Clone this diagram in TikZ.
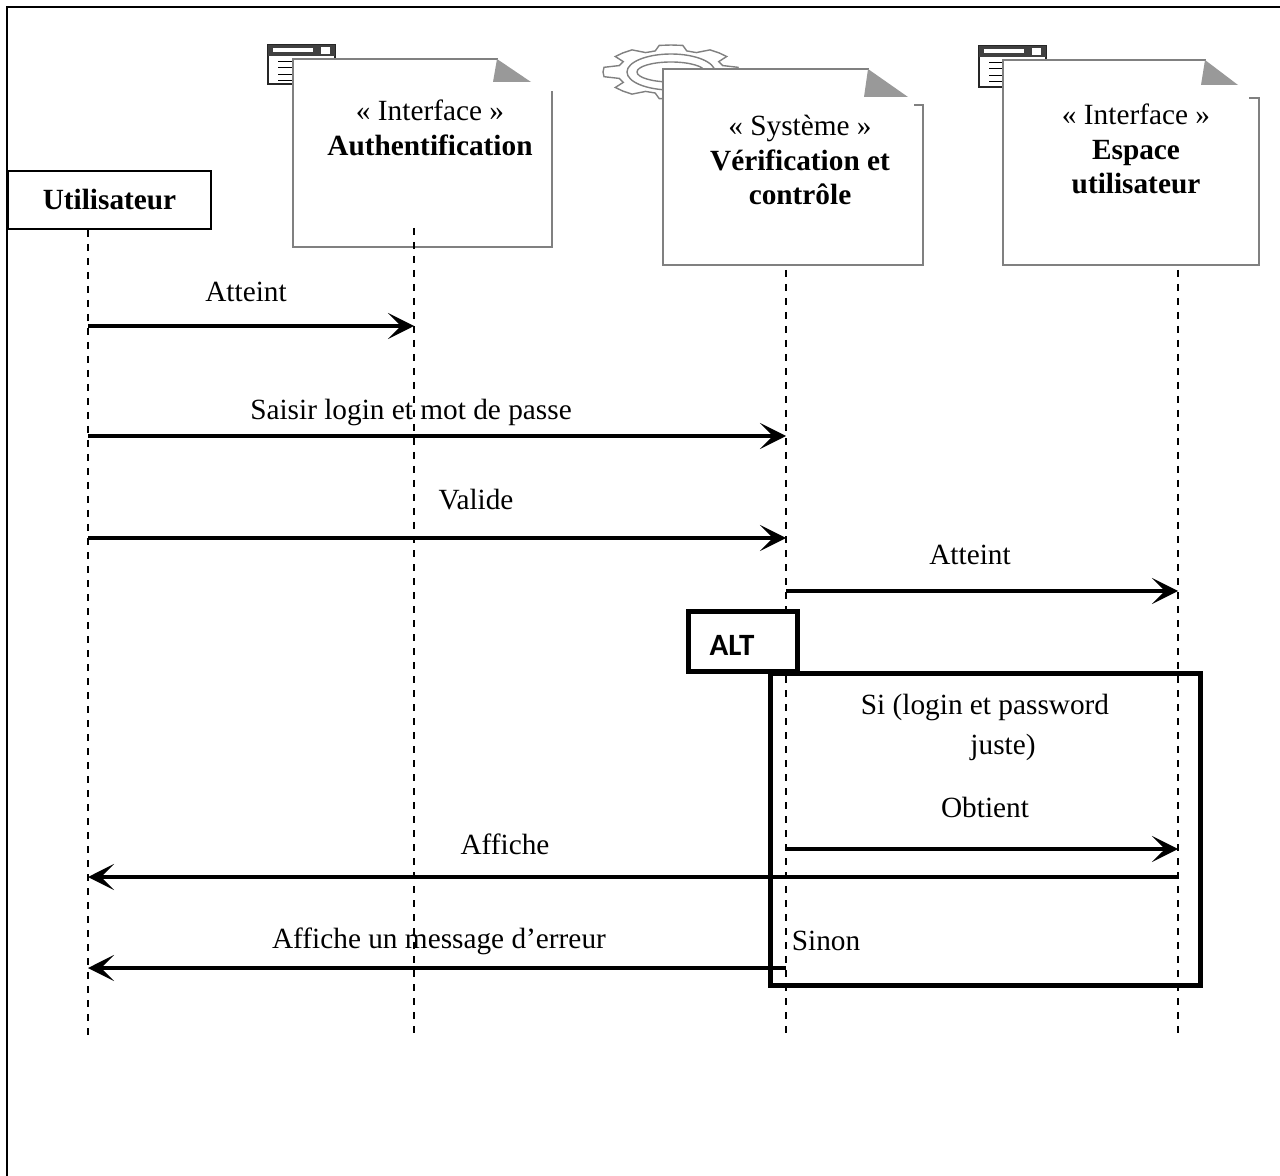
\documentclass[tikz,border=0pt]{standalone}
\usepackage{fontspec}
\setmainfont{Liberation Serif}
\newfontfamily\altfont{Carlito}
\usetikzlibrary{arrows.meta}
\tikzset{
	lifeline/.style={line width=0.8pt,dash pattern=on 3.5pt off 3.5pt},
	msg/.style={-{Stealth[length=13pt,width=13pt,inset=6.5pt]},line width=1.7pt},
	label/.style={inner sep=0pt,font=\fontsize{14.65}{17}\selectfont},
	title/.style={inner sep=0pt,align=center,font=\fontsize{14.65}{17}\selectfont},
	noteline/.style={draw=black!50,line width=1.1pt,line cap=rect},
	fold/.style={fill=black!40,draw=none},
	icon/.style={draw=black!85,fill=white,line width=1.1pt},
	gear/.style={draw=black!50,line width=0.7pt,fill=white},
	frameline/.style={draw=black,line width=2.5pt}
}
\begin{document}
\begin{tikzpicture}[x=0.5pt,y=-0.5pt]
		\useasboundingbox (0,0) rectangle (1280,1176);
		\draw[line width=1pt] (7,1176) -- (7,7) -- (1280,7);

		% window icons
		\foreach \ix/\iy/\ih in {268/45/39,979/46/41}{
			\draw[icon] (\ix,\iy) rectangle ++(67,\ih);
			\fill[black!75] (\ix,\iy) rectangle ++(67,11);
			\fill[white] (\ix+5,\iy+3) rectangle ++(40,4);
			\fill[white] (\ix+53,\iy+2) rectangle ++(9,7);
			\foreach \ly in {17,23,30,36}
				\draw[line width=0.5pt] (\ix+10,\iy+\ly) -- ++(18,0);
		}

		% gear icon
		\begin{scope}[shift={(671,72)}]
			\draw[gear] (0:68 and 27)
				\foreach \a in {0,45,...,315}{
					-- (\a+10:68 and 27) -- (\a+17:54 and 22) -- (\a+28:54 and 22) -- (\a+35:68 and 27) -- (\a+45:68 and 27)
				} -- cycle;
			\draw[gear] (0,0) ellipse (44 and 18);
			\draw[gear] (0,0) ellipse (34 and 10);
		\end{scope}

		% note shapes
		\fill[white] (293,59) -- (497,59) -- (531,92) -- (552,92) -- (552,247) -- (293,247) -- cycle;
		\draw[noteline] (497,59) -- (293,59) -- (293,247) -- (552,247) -- (552,92);
		\fill[fold] (497,59) -- (531,82) -- (493,82) -- cycle;

		\fill[white] (663,69) -- (868,69) -- (908,105) -- (923,105) -- (923,265) -- (663,265) -- cycle;
		\draw[noteline] (868,69) -- (663,69) -- (663,265) -- (923,265) -- (923,105) -- (915,105);
		\fill[fold] (868,69) -- (908,97) -- (864,97) -- cycle;

		\fill[white] (1003,60) -- (1205,60) -- (1245,98) -- (1259,98) -- (1259,265) -- (1003,265) -- cycle;
		\draw[noteline] (1205,60) -- (1003,60) -- (1003,265) -- (1259,265) -- (1259,98) -- (1250,98);
		\fill[fold] (1205,60) -- (1238,85) -- (1201,85) -- cycle;

		% participants
		\node[draw,line width=0.7pt,minimum width=101.5pt,minimum height=29pt,inner sep=0pt,font=\fontsize{14.65}{17}\selectfont\bfseries] (user) at (109.5,200) {Utilisateur};
		\node[title] (auth) at (430,128) {« Interface »\\[0.5pt]\textbf{Authentification}};
		\node[title] (sys) at (800,160) {« Système »\\[0.5pt]\textbf{Vérification et}\\\textbf{contrôle}};
		\node[title] (esp) at (1136,149) {« Interface »\\[0.5pt]\textbf{Espace}\\\textbf{utilisateur}};

		% lifelines
		\coordinate (uTop) at (88,230);
		\coordinate (uEnd) at (88,1035);
		\coordinate (aTop) at (414,228);
		\coordinate (aEnd) at (414,1035);
		\coordinate (sTop) at (786,270);
		\coordinate (sEnd) at (786,1035);
		\coordinate (eTop) at (1178,270);
		\coordinate (eEnd) at (1178,1035);
		\draw[lifeline] (uTop) -- (uEnd);
		\draw[lifeline] (aTop) -- (aEnd);
		\draw[lifeline] (sTop) -- (sEnd);
		\draw[lifeline] (eTop) -- (eEnd);

		% message rows
		\coordinate (r1) at (0,326);
		\coordinate (r2) at (0,436);
		\coordinate (r3) at (0,538);
		\coordinate (r4) at (0,591);
		\coordinate (r5) at (0,849);
		\coordinate (r6) at (0,877);
		\coordinate (r7) at (0,968);

		\draw[msg] (uTop |- r1) -- (aTop |- r1);
		\draw[msg] (uTop |- r2) -- (sTop |- r2);
		\draw[msg] (uTop |- r3) -- (sTop |- r3);
		\draw[msg] (sTop |- r4) -- (eTop |- r4);
		\draw[msg] (sTop |- r5) -- (eTop |- r5);
		\draw[msg] (eTop |- r6) -- (uTop |- r6);
		\draw[msg] (sTop |- r7) -- (uTop |- r7);

		\node[label] (lab1) at (246,292) {Atteint};
		\node[label] (lab2) at (411,412) {Saisir login et mot de passe};
		\node[label] (lab3) at (476,500) {Valide};
		\node[label] (lab4) at (970,555) {Atteint};
		\node[label] (lab5) at (985,707) {Si (login et password};
		\node[label] (lab6) at (1003,747) {juste)};
		\node[label] (lab7) at (985,807) {Obtient};
		\node[label] (lab8) at (505,844) {Affiche};
		\node[label] (lab9) at (439,941) {Affiche un message d’erreur};
		\node[label] (lab10) at (826,941) {Sinon};

		% alt frame
		\draw[frameline] (770,673) rectangle (1200,985);
		\draw[frameline,fill=white] (688.5,611.5) rectangle (797.5,671.5);
		\node[inner sep=0pt,font=\altfont\fontsize{15.5}{18}\selectfont\bfseries] (alt) at (732,645) {ALT};
\end{tikzpicture}
\end{document}
